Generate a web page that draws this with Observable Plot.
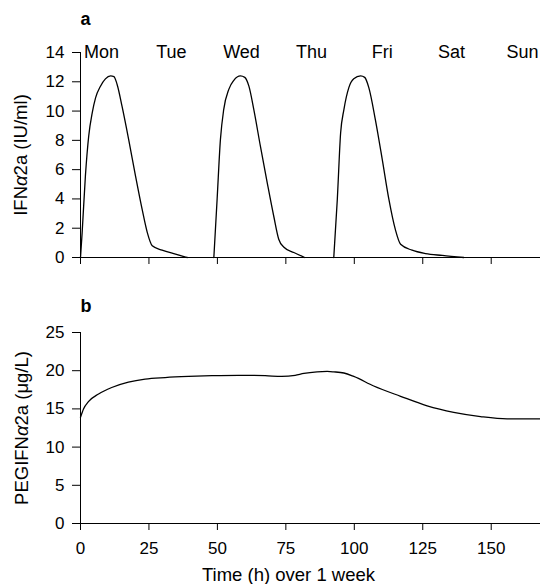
<!DOCTYPE html>
<html><head><meta charset="utf-8">
<script src="https://cdn.jsdelivr.net/npm/d3@7"></script>
<script src="https://cdn.jsdelivr.net/npm/@observablehq/plot@0.6"></script>
<style>
body{margin:0;background:#fff;}
#wrap{position:relative;width:540px;height:584px;background:#fff;}
#top,#bot{position:absolute;left:0;}
#top{top:0px}
#bot{top:280px}
</style></head><body><div id="wrap"><div id="top"></div><div id="bot"></div></div>
<script>
// ---- data ----
const days = ["Mon", "Tue", "Wed", "Thu", "Fri", "Sat", "Sun"];
const dayHours = [7.7, 33.2, 58.8, 84.4, 110.2, 135.5, 161.4];

// IFNα2a pulses (Mon, Wed, Fri)
const pulse1Hours = [0, 0.6, 1.8, 3.0, 4.3, 5.5, 7.3, 9.1, 11.0, 12.2, 13.4, 15.2, 17.6, 20.1, 22.5, 24.4, 26.2, 29.8, 34.7, 39.0];
const pulse1Values = [0, 1.7, 5.6, 8.3, 9.9, 10.9, 11.7, 12.2, 12.4, 12.36, 11.8, 10.3, 8.05, 5.56, 3.3, 1.7, 0.8, 0.5, 0.23, 0];
const pulse2Hours = [48.7, 49.9, 51.1, 52.3, 54.2, 56.0, 58.4, 60.0, 61.5, 63.3, 65.7, 68.2, 70.6, 72.4, 74.3, 77.9, 81.9];
const pulse2Values = [0, 4.0, 8.05, 10.1, 11.5, 12.1, 12.4, 12.3, 11.7, 10.1, 7.6, 5.1, 2.8, 1.25, 0.7, 0.34, 0];
const pulse3Hours = [92.5, 93.8, 95.0, 96.2, 98.0, 99.8, 102.3, 103.8, 105.3, 107.7, 110.2, 112.6, 115.0, 116.9, 121.1, 126.0, 132.1, 140.0];
const pulse3Values = [0, 4.0, 8.5, 10.1, 11.6, 12.2, 12.4, 12.3, 11.6, 9.4, 6.7, 4.0, 1.9, 0.9, 0.5, 0.27, 0.14, 0];

// PEGIFNα2a
const pegHours = [0, 1.1, 2.9, 6.6, 11.4, 17.5, 23.6, 30.9, 39.4, 48.0, 57.7, 67.4, 73.5, 78.4, 81.6, 86.4, 90.1, 92.5, 96.2, 99.8,
  107.1, 116.9, 126.6, 136.3, 146.1, 155.8, 168];
const pegValues = [13.9, 15.0, 15.95, 16.95, 17.8, 18.5, 18.9, 19.1, 19.25, 19.35, 19.4, 19.35, 19.25, 19.4, 19.65, 19.85, 19.9, 19.85, 19.7, 19.25,
  18.0, 16.65, 15.4, 14.55, 14.0, 13.7, 13.7];

const topYTicks = [0, 2, 4, 6, 8, 10, 12, 14];
const botYTicks = [0, 5, 10, 15, 20, 25];
const xTicks = [0, 25, 50, 75, 100, 125, 150];

const topYLabel = "IFNα2a (IU/ml)";
const botYLabel = "PEGIFNα2a (μg/L)";
const xLabel = "Time (h) over 1 week";
const panelA = "a";
const panelB = "b";

// ---- build ----
const pulses = [[pulse1Hours, pulse1Values], [pulse2Hours, pulse2Values], [pulse3Hours, pulse3Values]];
const ifnData = pulses.flatMap(([hs, vs], p) => hs.map((h, i) => ({h, v: vs[i], p})));
const pegData = pegHours.map((h, i) => ({h, v: pegValues[i]}));

const font = "'Liberation Sans', Arial, Helvetica, sans-serif";
const style = {fontFamily: font, fontSize: "17px", color: "#000", background: "#fff", overflow: "visible"};

const topPlot = Plot.plot({
  width: 540, height: 270,
  marginTop: 52, marginBottom: 13, marginLeft: 80, marginRight: 0,
  style,
  x: {domain: [0, 168]},
  y: {domain: [0, 14]},
  marks: [
    Plot.axisY({ticks: topYTicks, tickSize: 8, tickPadding: 8, label: null, stroke: "#000"}),
    Plot.axisX({ticks: xTicks, tickSize: 7, tickFormat: () => "", label: null, stroke: "#000"}),
    Plot.ruleX([0], {stroke: "#000"}),
    Plot.ruleY([0], {stroke: "#000"}),
    Plot.line(ifnData, {x: "h", y: "v", z: "p", curve: "monotone-x", stroke: "#000", strokeWidth: 1.3}),
    Plot.text(days, {x: dayHours, text: d => d, frameAnchor: "top", lineAnchor: "middle", fontSize: 18, fill: "#000"}),
    Plot.text([topYLabel], {text: d => d, frameAnchor: "left", rotate: -90, dx: -59, lineAnchor: "middle", textAnchor: "middle", fontSize: 18.5, fill: "#000"}),
    Plot.text([panelA], {text: d => d, frameAnchor: "top-left", dy: -33, textAnchor: "start", lineAnchor: "middle", fontSize: 18, fontWeight: "bold", fill: "#000"})
  ]
});

const botPlot = Plot.plot({
  width: 540, height: 304,
  marginTop: 52, marginBottom: 61, marginLeft: 80, marginRight: 0,
  style,
  x: {domain: [0, 168]},
  y: {domain: [0, 25]},
  marks: [
    Plot.axisY({ticks: botYTicks, tickSize: 8, tickPadding: 8, label: null, stroke: "#000"}),
    Plot.axisX({ticks: xTicks, tickSize: 7, tickPadding: 11, label: null, stroke: "#000"}),
    Plot.ruleX([0], {stroke: "#000"}),
    Plot.ruleY([0], {stroke: "#000"}),
    Plot.line(pegData, {x: "h", y: "v", curve: "monotone-x", stroke: "#000", strokeWidth: 1.3}),
    Plot.text([botYLabel], {text: d => d, frameAnchor: "left", rotate: -90, dx: -58, lineAnchor: "middle", textAnchor: "middle", fontSize: 18.5, fill: "#000"}),
    Plot.text([xLabel], {text: d => d, frameAnchor: "bottom", dx: -22, dy: 52, lineAnchor: "middle", textAnchor: "middle", fontSize: 18.5, fill: "#000"}),
    Plot.text([panelB], {text: d => d, frameAnchor: "top-left", dy: -26, textAnchor: "start", lineAnchor: "middle", fontSize: 18, fontWeight: "bold", fill: "#000"})
  ]
});

document.getElementById("top").appendChild(topPlot);
document.getElementById("bot").appendChild(botPlot);

// italic alpha, as in the reference
for (const t of document.querySelectorAll("text")) {
  if (t.children.length === 0 && t.textContent.includes("α")) {
    const parts = t.textContent.split("α");
    t.textContent = "";
    parts.forEach((p, i) => {
      if (i > 0) {
        const ts = document.createElementNS("http://www.w3.org/2000/svg", "tspan");
        ts.setAttribute("font-style", "italic");
        ts.textContent = "α";
        t.appendChild(ts);
      }
      t.appendChild(document.createTextNode(p));
    });
  }
}
</script></body></html>
